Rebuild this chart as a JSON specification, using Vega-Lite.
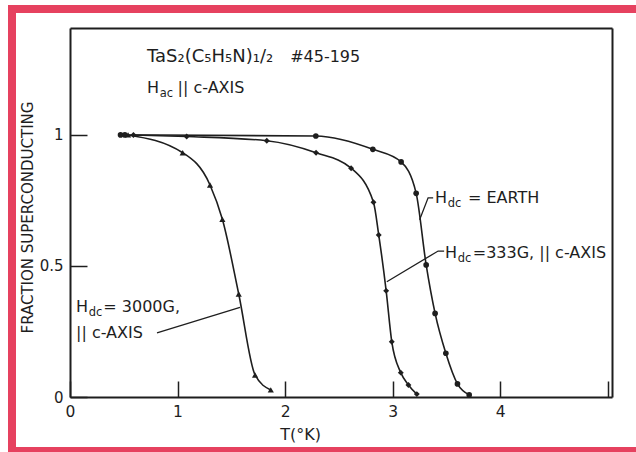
{
  "$schema": "https://vega.github.io/schema/vega-lite/v6.json",
  "width": 628,
  "height": 442,
  "autosize": {"type": "none"},
  "padding": {"left": 12, "top": 9, "right": -4, "bottom": 1},
  "background": "white",
  "config": {
    "view": {"stroke": "#e6415f", "strokeWidth": 8, "fill": "white"},
    "font": "DejaVu Sans"
  },
  "datasets": {
    "curves": [
      {"s": "earth", "T": 0.47, "f": 1.0},
      {"s": "earth", "T": 0.51, "f": 1.0},
      {"s": "earth", "T": 2.286, "f": 0.996},
      {"s": "earth", "T": 2.816, "f": 0.945},
      {"s": "earth", "T": 3.079, "f": 0.897},
      {"s": "earth", "T": 3.219, "f": 0.777},
      {"s": "earth", "T": 3.312, "f": 0.504},
      {"s": "earth", "T": 3.395, "f": 0.319},
      {"s": "earth", "T": 3.495, "f": 0.167},
      {"s": "earth", "T": 3.603, "f": 0.05},
      {"s": "earth", "T": 3.712, "f": 0.008},
      {"s": "333G", "T": 0.59, "f": 1.0},
      {"s": "333G", "T": 1.085, "f": 0.994},
      {"s": "333G", "T": 1.83, "f": 0.978},
      {"s": "333G", "T": 2.288, "f": 0.932},
      {"s": "333G", "T": 2.614, "f": 0.873},
      {"s": "333G", "T": 2.822, "f": 0.743},
      {"s": "333G", "T": 2.871, "f": 0.618},
      {"s": "333G", "T": 2.94, "f": 0.405},
      {"s": "333G", "T": 2.992, "f": 0.211},
      {"s": "333G", "T": 3.076, "f": 0.093},
      {"s": "333G", "T": 3.147, "f": 0.046},
      {"s": "333G", "T": 3.225, "f": 0.011},
      {"s": "3000G", "T": 0.54, "f": 1.0},
      {"s": "3000G", "T": 1.048, "f": 0.932},
      {"s": "3000G", "T": 1.302, "f": 0.809},
      {"s": "3000G", "T": 1.417, "f": 0.678},
      {"s": "3000G", "T": 1.569, "f": 0.393},
      {"s": "3000G", "T": 1.721, "f": 0.084},
      {"s": "3000G", "T": 1.867, "f": 0.027}
    ],
    "leaders": [
      {"id": "earth", "seq": 1, "x": 3.377, "y": 0.76},
      {"id": "earth", "seq": 2, "x": 3.33, "y": 0.76},
      {"id": "earth", "seq": 3, "x": 3.251, "y": 0.676},
      {"id": "333G", "seq": 1, "x": 3.479, "y": 0.557},
      {"id": "333G", "seq": 2, "x": 3.423, "y": 0.557},
      {"id": "333G", "seq": 3, "x": 2.946, "y": 0.44},
      {"id": "3000G", "seq": 1, "x": 0.809, "y": 0.245},
      {"id": "3000G", "seq": 2, "x": 1.581, "y": 0.342}
    ],
    "labels": [
      {"t": "TaS₂(C₅H₅N)₁/₂", "x": 0.716, "y": 1.298, "k": "big"},
      {"t": "#45-195", "x": 2.047, "y": 1.298, "k": "main"},
      {"t": "H", "x": 0.716, "y": 1.179, "k": "main"},
      {"t": "ac", "x": 0.834, "y": 1.158, "k": "sub"},
      {"t": "|| c-AXIS", "x": 1.0, "y": 1.179, "k": "main"},
      {"t": "H", "x": 3.395, "y": 0.76, "k": "main"},
      {"t": "dc", "x": 3.513, "y": 0.737, "k": "sub"},
      {"t": "= EARTH", "x": 3.7, "y": 0.76, "k": "main"},
      {"t": "H", "x": 3.488, "y": 0.55, "k": "main"},
      {"t": "dc", "x": 3.606, "y": 0.527, "k": "sub"},
      {"t": "=333G, || c-AXIS", "x": 3.745, "y": 0.55, "k": "main"},
      {"t": "H", "x": 0.056, "y": 0.342, "k": "main"},
      {"t": "dc", "x": 0.174, "y": 0.319, "k": "sub"},
      {"t": "= 3000G,", "x": 0.31, "y": 0.342, "k": "main"},
      {"t": "|| c-AXIS", "x": 0.056, "y": 0.246, "k": "main"}
    ]
  },
  "resolve": {"axis": {"x": "independent", "y": "independent"}},
  "layer": [
    {
      "data": {"name": "curves"},
      "mark": {"type": "line", "interpolate": "monotone", "color": "#1e1e1e", "strokeWidth": 1.6},
      "encoding": {
        "x": {
          "field": "T", "type": "quantitative",
          "scale": {"domain": [0, 5.04], "range": [58, 600], "nice": false, "zero": false},
          "axis": {
            "orient": "bottom", "offset": -54, "values": [0, 1, 2, 3, 4, 5], "format": "d",
            "labelExpr": "datum.value >= 5 ? '' : datum.label",
            "tickSize": -16, "tickWidth": 1.5, "tickColor": "#1e1e1e",
            "domainColor": "#1e1e1e", "domainWidth": 2,
            "labelFont": "DejaVu Sans", "labelFontSize": 15.5, "labelColor": "#1e1e1e",
            "labelPadding": 23, "labelFlush": false, "labelOverlap": false, "grid": false,
            "title": "T(°K)", "titleFont": "DejaVu Sans", "titleFontSize": 16,
            "titleFontWeight": "normal", "titleColor": "#1e1e1e",
            "titleX": 288, "titleY": 37, "titleBaseline": "middle", "titleAlign": "center"
          }
        },
        "y": {
          "field": "f", "type": "quantitative",
          "scale": {"domain": [0, 1.408], "range": [388, 19], "nice": false, "zero": false},
          "axis": {
            "orient": "left", "offset": -58, "values": [0, 0.5, 1], "format": ".1~f",
            "tickSize": -17, "tickWidth": 1.5, "tickColor": "#1e1e1e",
            "domainColor": "#1e1e1e", "domainWidth": 2,
            "labelFont": "DejaVu Sans", "labelFontSize": 15, "labelColor": "#1e1e1e",
            "labelPadding": 24, "labelOverlap": false, "grid": false,
            "title": "FRACTION SUPERCONDUCTING", "titleFont": "DejaVu Sans", "titleFontSize": 15,
            "titleFontWeight": "normal", "titleColor": "#1e1e1e",
            "titleX": -43, "titleY": 208, "titleAngle": 270, "titleBaseline": "middle", "titleAlign": "center"
          }
        },
        "detail": {"field": "s"}
      }
    },
    {
      "data": {"name": "curves"},
      "mark": {"type": "point", "filled": true, "color": "#1e1e1e", "opacity": 1},
      "encoding": {
        "x": {
          "field": "T", "type": "quantitative",
          "axis": {"orient": "top", "offset": -19, "ticks": false, "labels": false, "title": null,
                   "domainColor": "#1e1e1e", "domainWidth": 2, "grid": false}
        },
        "y": {
          "field": "f", "type": "quantitative",
          "axis": {"orient": "right", "offset": -28, "ticks": false, "labels": false, "title": null,
                   "domainColor": "#1e1e1e", "domainWidth": 2, "grid": false}
        },
        "shape": {
          "field": "s", "type": "nominal",
          "scale": {"domain": ["earth", "333G", "3000G"], "range": ["circle", "diamond", "triangle-up"]},
          "legend": null
        },
        "size": {
          "field": "s", "type": "nominal",
          "scale": {"domain": ["earth", "333G", "3000G"], "range": [32, 38, 48]},
          "legend": null
        }
      }
    },
    {
      "data": {"name": "leaders"},
      "mark": {"type": "line", "color": "#1e1e1e", "strokeWidth": 1.3},
      "encoding": {
        "x": {"field": "x", "type": "quantitative", "axis": null},
        "y": {"field": "y", "type": "quantitative", "axis": null},
        "detail": {"field": "id"},
        "order": {"field": "seq"}
      }
    },
    {
      "data": {"name": "labels"},
      "transform": [{"filter": "datum.k == 'main'"}],
      "mark": {"type": "text", "align": "left", "baseline": "middle", "font": "DejaVu Sans", "fontSize": 16, "color": "#1e1e1e"},
      "encoding": {
        "x": {"field": "x", "type": "quantitative", "axis": null},
        "y": {"field": "y", "type": "quantitative", "axis": null},
        "text": {"field": "t"}
      }
    },
    {
      "data": {"name": "labels"},
      "transform": [{"filter": "datum.k == 'big'"}],
      "mark": {"type": "text", "align": "left", "baseline": "middle", "font": "DejaVu Sans", "fontSize": 18, "color": "#1e1e1e"},
      "encoding": {
        "x": {"field": "x", "type": "quantitative", "axis": null},
        "y": {"field": "y", "type": "quantitative", "axis": null},
        "text": {"field": "t"}
      }
    },
    {
      "data": {"name": "labels"},
      "transform": [{"filter": "datum.k == 'sub'"}],
      "mark": {"type": "text", "align": "left", "baseline": "middle", "font": "DejaVu Sans", "fontSize": 11.5, "color": "#1e1e1e"},
      "encoding": {
        "x": {"field": "x", "type": "quantitative", "axis": null},
        "y": {"field": "y", "type": "quantitative", "axis": null},
        "text": {"field": "t"}
      }
    }
  ]
}
